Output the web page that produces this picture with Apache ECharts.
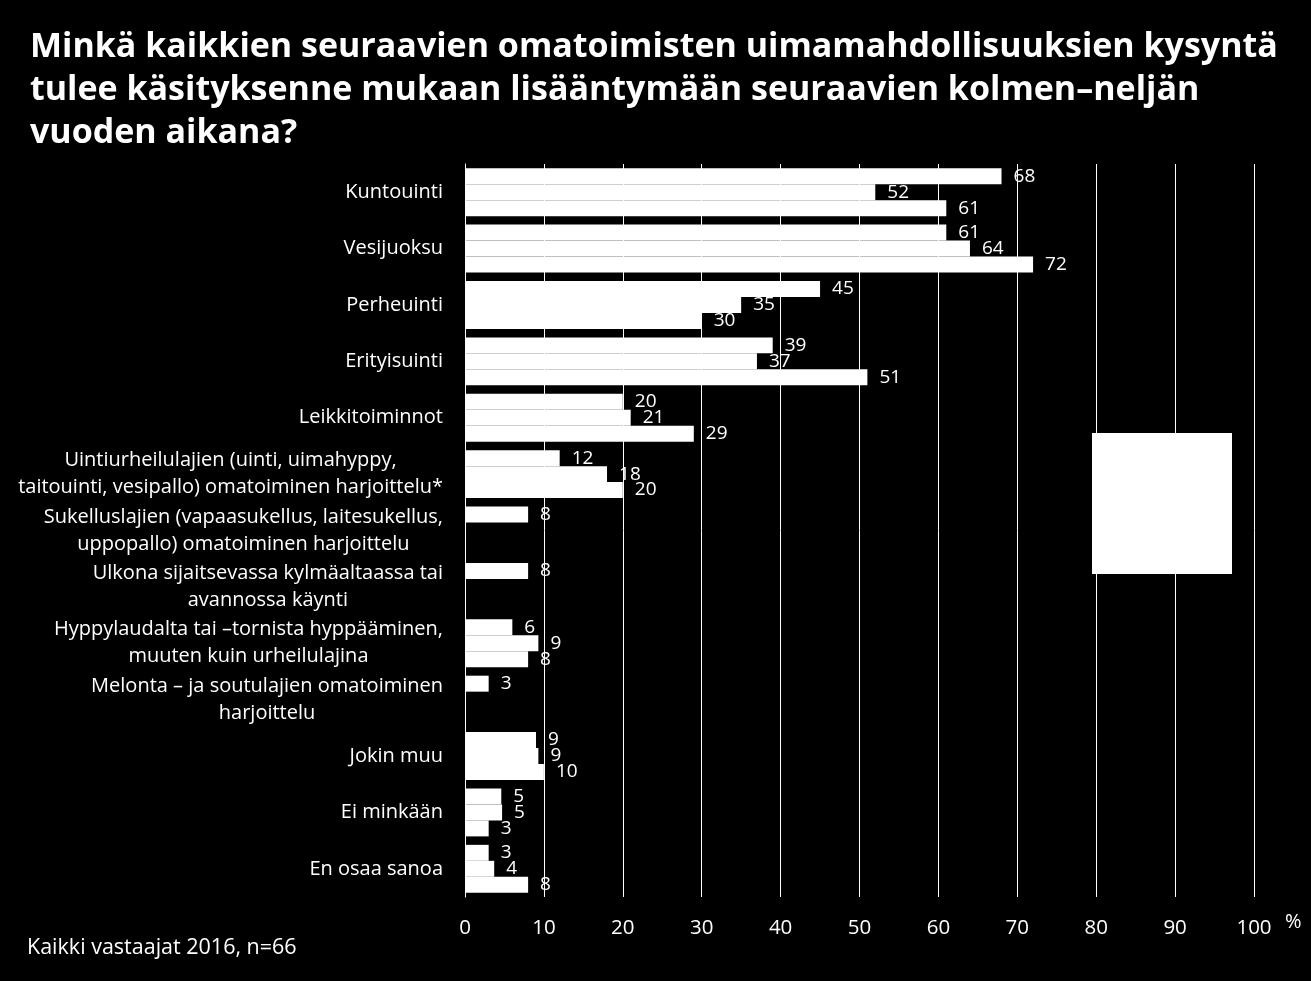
<!DOCTYPE html>
<html>
<head>
<meta charset="utf-8">
<script src="https://cdn.jsdelivr.net/npm/echarts@6/dist/echarts.min.js"></script>
<style>
html,body{margin:0;padding:0;background:#000;}
#chart{width:1311px;height:981px;}
</style>
</head>
<body>
<div id="chart"></div>
<script>
const categories = [
  "Kuntouinti",
  "Vesijuoksu",
  "Perheuinti",
  "Erityisuinti",
  "Leikkitoiminnot",
  "Uintiurheilulajien (uinti, uimahyppy,\ntaitouinti, vesipallo) omatoiminen harjoittelu*",
  "Sukelluslajien (vapaasukellus, laitesukellus,\nuppopallo) omatoiminen harjoittelu",
  "Ulkona sijaitsevassa kylmäaltaassa tai\navannossa käynti",
  "Hyppylaudalta tai –tornista hyppääminen,\nmuuten kuin urheilulajina",
  "Melonta – ja soutulajien omatoiminen\nharjoittelu",
  "Jokin muu",
  "Ei minkään",
  "En osaa sanoa"
];
const seriesA = [68, 61, 45, 39, 20, 12, 8, 8, 6, 3, 9, 4.6, 3];
const seriesB = [52, 64, 35, 37, 21, 18, null, null, 9.3, null, 9.3, 4.7, 3.7];
const seriesC = [61, 72, 30, 51, 29, 20, null, null, 8, null, 10, 3, 8];
const xTicks = [0, 10, 20, 30, 40, 50, 60, 70, 80, 90, 100];

const FONT = "Open Sans";
const chart = echarts.init(document.getElementById('chart'));

function barSeries(name, data) {
  return {
    name: name,
    type: 'bar',
    data: data,
    barGap: 0,
    barCategoryGap: '15%',
    itemStyle: { color: '#ffffff' },
    label: {
      show: true,
      position: 'right',
      distance: 12,
      color: '#ffffff',
      fontFamily: FONT,
      fontSize: 19,
      formatter: p => Math.round(p.value)
    },
    animation: false
  };
}

chart.setOption({
  backgroundColor: '#000000',
  animation: false,
  title: {
    text: "Minkä kaikkien seuraavien omatoimisten uimamahdollisuuksien kysyntä\ntulee käsityksenne mukaan lisääntymään seuraavien kolmen–neljän\nvuoden aikana?",
    left: 25,
    top: 21,
    textStyle: {
      color: '#ffffff',
      fontFamily: FONT,
      fontWeight: 'bold',
      fontSize: 34,
      lineHeight: 43
    }
  },
  grid: { left: 465, right: 57, top: 164, bottom: 84, containLabel: false },
  xAxis: {
    type: 'value',
    min: 0,
    max: 100,
    interval: 10,
    axisLine: { show: false },
    axisTick: { show: false },
    splitLine: { show: true, lineStyle: { color: '#ffffff', width: 1 } },
    axisLabel: {
      color: '#ffffff',
      fontFamily: FONT,
      fontSize: 20.5,
      margin: 21,
      formatter: v => xTicks.indexOf(v) >= 0 ? String(v) : ''
    }
  },
  yAxis: {
    type: 'category',
    inverse: true,
    data: categories,
    axisLine: { show: true, lineStyle: { color: '#ffffff', width: 1 } },
    axisTick: { show: false },
    axisLabel: {
      color: '#ffffff',
      fontFamily: FONT,
      fontSize: 20,
      lineHeight: 27,
      margin: 22,
      align: 'right',
      formatter: v => v.split('\n').map(l => '{c|' + l + '}').join('\n'),
      rich: {
        c: {
          align: 'center',
          color: '#ffffff',
          fontFamily: FONT,
          fontSize: 20,
          lineHeight: 27
        }
      }
    }
  },
  series: [
    barSeries('A', seriesA),
    barSeries('B', seriesB),
    barSeries('C', seriesC)
  ],
  graphic: [
    { type: 'rect', shape: { x: 1092, y: 433, width: 140, height: 141 }, style: { fill: '#ffffff' } },
    { type: 'text', left: 27, top: 937, style: { text: 'Kaikki vastaajat 2016, n=66', fill: '#ffffff', font: '21.5px "Open Sans"' } },
    { type: 'text', left: 1285, top: 912, style: { text: '%', fill: '#ffffff', font: '20px "Open Sans"' } }
  ]
});
</script>
</body>
</html>
